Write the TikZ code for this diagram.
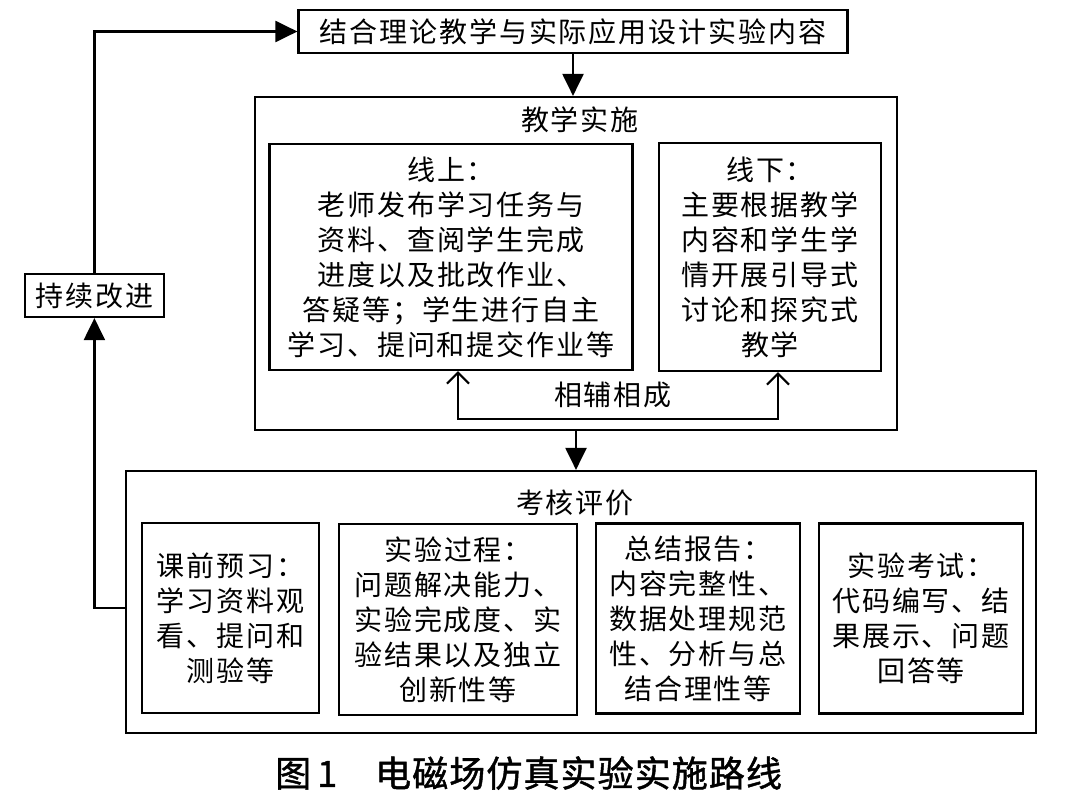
\documentclass[tikz,border=0pt]{standalone}
\usepackage{fontspec}
\setmainfont{Noto Sans CJK SC}[LetterSpace=7]
\newfontfamily\capfont{Noto Sans CJK SC}[LetterSpace=3,FakeBold=1.2]
\usetikzlibrary{arrows.meta}
\begin{document}
\begin{tikzpicture}[x=1pt,y=-1pt,
  box/.style={draw,line width=2.2pt,inner sep=0pt,align=center,font=\fontsize{28}{35}\selectfont},
  arr/.style={line width=2.2pt,-{Triangle[length=22pt,width=21pt]}},
  barb/.style={line width=2.2pt,{Straight Barb[length=11pt,width=22pt]}-{Straight Barb[length=11pt,width=22pt]}},
  lbl/.style={inner sep=0pt,font=\fontsize{28}{35}\selectfont}]
\useasboundingbox[fill=white] (0,0) rectangle (1074,811);

\node[box,minimum width=549pt,minimum height=43pt] (top) at (573,31.5) {结合理论教学与实际应用设计实验内容};
\node[box,minimum width=139pt,minimum height=43pt] (kz) at (94.4,295.5) {持续改进};

\node[box,minimum width=642pt,minimum height=333pt] (teach) at (576,263.5) {};
\node[lbl] (tt) at (580,120) {教学实施};
\node[box,minimum width=363pt,minimum height=226pt] (on) at (451,257) {线上：\\老师发布学习任务与\\资料、查阅学生完成\\进度以及批改作业、\\答疑等；学生进行自主\\学习、提问和提交作业等};
\node[box,minimum width=222pt,minimum height=228pt] (off) at (770,257) {线下：\\主要根据教学\\内容和学生学\\情开展引导式\\讨论和探究式\\教学};
\node[lbl] (xf) at (613,395) {相辅相成};

\node[box,minimum width=910pt,minimum height=262pt] (ev) at (581,602) {};
\node[lbl] (et) at (575,503) {考核评价};
\node[box,minimum width=177pt,minimum height=190pt] (b1) at (230.4,618) {课前预习：\\学习资料观\\看、提问和\\测验等};
\node[box,minimum width=237.6pt,minimum height=191pt] (b2) at (458,619.5) {实验过程：\\问题解决能力、\\实验完成度、实\\验结果以及独立\\创新性等};
\node[box,minimum width=204pt,minimum height=190pt] (b3) at (698,618.5) {总结报告：\\内容完整性、\\数据处理规范\\性、分析与总\\结合理性等};
\node[box,minimum width=204pt,minimum height=190pt] (b4) at (921,618.5) {实验考试：\\代码编写、结\\果展示、问题\\回答等};

\node[anchor=west,inner sep=0pt,font=\fontsize{36}{36}\capfont] (cap) at (275,773) {图\hspace{6pt}1\hspace{38pt}电磁场仿真实验实施路线};

\draw[arr] (top.south) -- (top.south |- teach.north);
\draw[arr] (teach.south) -- (teach.south |- ev.north);
\draw[arr] ([yshift=-6pt]ev.west) -| (kz.south);
\draw[arr] (kz.north) |- (top.west);
\draw[barb] ([xshift=7pt]on.south) -- ++(0,48) -| ([xshift=8pt]off.south);
\end{tikzpicture}
\end{document}
